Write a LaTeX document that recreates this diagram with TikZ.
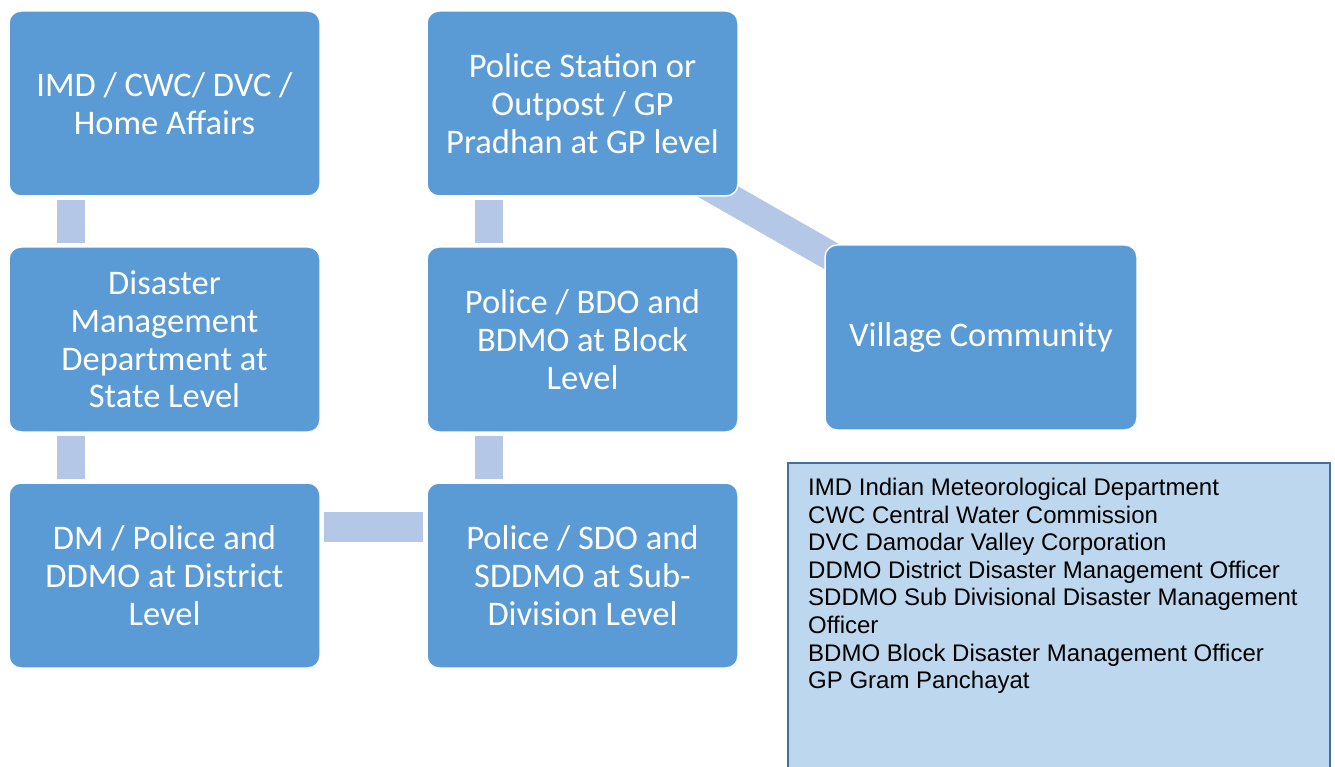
\documentclass[tikz,border=0pt]{standalone}
\usepackage{fontspec}
\setmainfont{Carlito}
\newfontfamily\legendfont{Liberation Sans}
\usetikzlibrary{calc,backgrounds}
\definecolor{boxblue}{HTML}{5B9BD5}
\definecolor{connblue}{HTML}{B4C7E7}
\definecolor{legfill}{HTML}{BDD7EE}
\definecolor{legborder}{HTML}{41719C}
\tikzset{
  stagebox/.style={rectangle, rounded corners=12pt, fill=boxblue, draw=white, line width=1.5pt,
    minimum width=311pt, minimum height=185pt, inner sep=0pt, align=center, text=white,
    font=\fontsize{34.5}{37.7}\selectfont},
  conn/.style={draw=connblue, line width=28pt, line cap=butt},
}
\begin{document}
\begin{tikzpicture}[x=1pt,y=-1pt]
\useasboundingbox (0,0) rectangle (1335,767);
\clip (0,0) rectangle (1335,767);
\node[stagebox] (A) at (164.5,103.5) {IMD / CWC/ DVC /\\Home Affairs};
\node[stagebox] (B) at (164.5,339.5) {Disaster\\Management\\Department at\\State Level};
\node[stagebox] (C) at (164.5,575.5) {DM / Police and\\DDMO at District\\Level};
\node[stagebox] (D) at (582.5,103.5) {Police Station or\\Outpost / GP\\Pradhan at GP level};
\node[stagebox] (E) at (582.5,339.5) {Police / BDO and\\BDMO at Block\\Level};
\node[stagebox] (F) at (582.5,575.5) {Police / SDO and\\SDDMO at Sub-\\Division Level};
\node[stagebox, minimum width=312pt] (G) at (981,337.5) {Village Community};
\begin{scope}[on background layer]
  \draw[conn, shorten <=3pt, shorten >=3pt] ($(A.south west)+(62.5,0)$) -- ($(B.north west)+(62.5,0)$);
  \draw[conn, shorten <=3pt, shorten >=3pt] ($(B.south west)+(62.5,0)$) -- ($(C.north west)+(62.5,0)$);
  \draw[conn, shorten <=3pt, shorten >=3pt] ($(F.north west)+(62.5,0)$) -- ($(E.south west)+(62.5,0)$);
  \draw[conn, shorten <=3pt, shorten >=3pt] ($(E.north west)+(62.5,0)$) -- ($(D.south west)+(62.5,0)$);
  \draw[conn, line width=30pt, shorten <=3pt, shorten >=3pt] ($(C.north east)+(0,45)$) -- ($(F.north west)+(0,45)$);
  \draw[conn, line width=29pt] ($(D.south east)+(-58,-26.5)$) -- ($(G.north west)+(45,33.75)$);
\end{scope}
\node[draw=legborder, line width=1.5pt, fill=legfill, minimum width=542pt, minimum height=320pt,
  anchor=north west, inner sep=0pt] (L) at (787,462) {};
\node[anchor=north west, inner sep=0pt, align=left, font=\legendfont\fontsize{24}{27.6}\selectfont] (T) at (808,478)
  {IMD Indian Meteorological Department\\CWC Central Water Commission\\DVC Damodar Valley Corporation\\DDMO District Disaster Management Officer\\SDDMO Sub Divisional Disaster Management\\Officer\\BDMO Block Disaster Management Officer\\GP Gram Panchayat};
\end{tikzpicture}
\end{document}
